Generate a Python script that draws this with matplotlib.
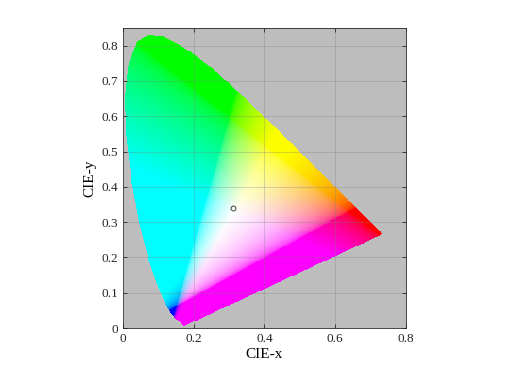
import numpy as np
import matplotlib
matplotlib.use('Agg')
import matplotlib.pyplot as plt
from matplotlib.path import Path

# CIE 1931 2-degree spectral locus, 380-700 nm in 5 nm steps
locus_x = [0.1741, 0.1740, 0.1738, 0.1736, 0.1733, 0.1730, 0.1726, 0.1721,
           0.1714, 0.1703, 0.1689, 0.1669, 0.1644, 0.1611, 0.1566, 0.1510,
           0.1440, 0.1355, 0.1241, 0.1096, 0.0913, 0.0687, 0.0454, 0.0235,
           0.0082, 0.0039, 0.0139, 0.0389, 0.0743, 0.1142, 0.1547, 0.1929,
           0.2296, 0.2658, 0.3016, 0.3373, 0.3731, 0.4087, 0.4441, 0.4788,
           0.5125, 0.5448, 0.5752, 0.6029, 0.6270, 0.6482, 0.6658, 0.6801,
           0.6915, 0.7006, 0.7079, 0.7140, 0.7190, 0.7230, 0.7260, 0.7283,
           0.7300, 0.7311, 0.7320, 0.7327, 0.7334, 0.7340, 0.7344, 0.7346,
           0.7347]
locus_y = [0.0050, 0.0050, 0.0049, 0.0049, 0.0048, 0.0048, 0.0048, 0.0048,
           0.0051, 0.0058, 0.0069, 0.0086, 0.0109, 0.0138, 0.0177, 0.0227,
           0.0297, 0.0399, 0.0578, 0.0868, 0.1327, 0.2007, 0.2950, 0.4127,
           0.5384, 0.6548, 0.7502, 0.8120, 0.8338, 0.8262, 0.8059, 0.7816,
           0.7543, 0.7243, 0.6923, 0.6589, 0.6245, 0.5896, 0.5547, 0.5202,
           0.4866, 0.4544, 0.4242, 0.3965, 0.3725, 0.3514, 0.3340, 0.3197,
           0.3083, 0.2993, 0.2920, 0.2859, 0.2809, 0.2770, 0.2740, 0.2717,
           0.2700, 0.2689, 0.2680, 0.2673, 0.2666, 0.2660, 0.2656, 0.2654,
           0.2653]

white_x = [0.311]
white_y = [0.340]

xticks = [0, 0.2, 0.4, 0.6, 0.8]
yticks = [0, 0.1, 0.2, 0.3, 0.4, 0.5, 0.6, 0.7, 0.8]

# XYZ -> linear sRGB
M = np.array([[3.2406, -1.5372, -0.4986],
              [-0.9689, 1.8758, 0.0415],
              [0.0557, -0.2040, 1.0570]])

# colour every grid cell at Y=1, clip to the gamut, then gamma-encode
nx, ny = 300, 320
gx = np.linspace(0, 0.8, nx)
gy = np.linspace(0, 0.85, ny)
X, Y = np.meshgrid(gx, gy)
Ys = np.maximum(Y, 1e-6)
XYZ = np.stack([X / Ys, np.ones_like(X), (1 - X - Y) / Ys], axis=-1)
rgb = np.clip(XYZ @ M.T, 0, 1)
rgb = np.where(rgb <= 0.0031308, 12.92 * rgb, 1.055 * rgb ** (1 / 2.4) - 0.055)

# keep only the cells inside the horseshoe
poly = Path(np.column_stack([locus_x + [locus_x[0]], locus_y + [locus_y[0]]]))
inside = poly.contains_points(np.column_stack([X.ravel(), Y.ravel()])).reshape(X.shape)
img = np.dstack([rgb, inside.astype(float)])

plt.rcParams['font.family'] = ['Liberation Serif', 'DejaVu Serif']

fig = plt.figure(figsize=(5.12, 3.69), dpi=100)
ax = fig.add_axes([0.240, 0.111, 0.553, 0.813])
ax.set_facecolor('#bdbdbd')
ax.imshow(img, extent=(0, 0.8, 0, 0.85), origin='lower',
          interpolation='nearest', aspect='equal', zorder=1)
ax.plot(white_x, white_y, 'o', ms=3.5, mfc='none', mec='#3a3a3a', mew=0.7, zorder=3)

ax.set_xlim(0, 0.8)
ax.set_ylim(0, 0.85)
ax.set_xticks(xticks)
ax.set_xticklabels(['0', '0.2', '0.4', '0.6', '0.8'])
ax.set_yticks(yticks)
ax.set_yticklabels(['0', '0.1', '0.2', '0.3', '0.4', '0.5', '0.6', '0.7', '0.8'])
ax.grid(True, color='#808080', alpha=0.3, lw=0.8, zorder=2)
ax.set_axisbelow(False)
ax.tick_params(direction='in', length=3, width=0.6, colors='#262626',
               labelsize=9.5, top=True, right=True)
for s in ax.spines.values():
    s.set_color('#262626')
    s.set_linewidth(0.6)
ax.set_xlabel('CIE-x', fontsize=11, labelpad=2)
ax.set_ylabel('CIE-y', fontsize=11, labelpad=4)

fig.savefig('out.png', dpi=100)
